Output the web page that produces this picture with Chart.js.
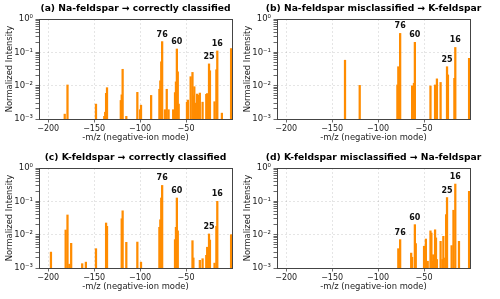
<!DOCTYPE html>
<html>
<head>
<meta charset="utf-8">
<script src="https://cdn.jsdelivr.net/npm/chart.js@4.4.1/dist/chart.umd.min.js"></script>
<style>
  body { margin: 0; background: #fff; width: 500px; height: 299px; overflow: hidden; position: relative; }
  canvas { position: absolute; }
</style>
</head>
<body>
<canvas id="panelA" width="250" height="150" style="left:0;top:0"></canvas>
<canvas id="panelB" width="250" height="150" style="left:238px;top:0"></canvas>
<canvas id="panelC" width="250" height="150" style="left:0;top:149px"></canvas>
<canvas id="panelD" width="250" height="150" style="left:238px;top:149px"></canvas>
<script>
// Spectra (-m/z position, normalized intensity)
const naCorrectMz = [-182, -179, -148, -139, -138, -137, -136, -121, -120, -119, -115, -103, -100, -99, -88,
    -79, -78, -77, -76, -73, -71, -69, -64, -62, -61, -60, -59, -58, -49, -48, -45, -43, -42, -41, -40,
    -38, -36, -35, -32, -28, -27, -25, -24, -19, -17, -16, -11, -1];
const naCorrectVal = [0.0014, 0.0105, 0.0028, 0.0012, 0.0016, 0.0059, 0.0087, 0.0036, 0.0053, 0.031, 0.0012, 0.0063, 0.0019, 0.0026, 0.0051,
    0.0078, 0.014, 0.052, 0.21, 0.0019, 0.0078, 0.0019, 0.0019, 0.0062, 0.013, 0.126, 0.026, 0.0028, 0.0032, 0.0037, 0.0186, 0.025, 0.005, 0.0093, 0.003,
    0.0056, 0.0052, 0.006, 0.0032, 0.0055, 0.0058, 0.045, 0.028, 0.0033, 0.03, 0.11, 0.0015, 0.13];

const naWrongMz = [-136, -120, -79, -78, -76, -63, -61, -60, -43, -38, -36, -32, -25, -24, -17, -16, -1];
const naWrongVal = [0.058, 0.0102, 0.0105, 0.037, 0.37, 0.0099, 0.0118, 0.2, 0.0098, 0.0105, 0.016, 0.0125, 0.037, 0.021, 0.0166, 0.14, 0.066];

const kCorrectMz = [-197, -181, -179, -177, -175, -163, -159, -148, -137, -136, -120, -119, -115, -103, -99,
    -79, -78, -77, -76, -62, -61, -60, -59, -43, -42, -35, -32, -28, -27, -25, -24, -19, -17, -16, -1];
const kCorrectVal = [0.003, 0.0138, 0.039, 0.0013, 0.0055, 0.00135, 0.0015, 0.0038, 0.0224, 0.0178, 0.03, 0.052, 0.0059, 0.006, 0.0015,
    0.0166, 0.028, 0.126, 0.30, 0.0071, 0.0166, 0.126, 0.013, 0.0066, 0.002, 0.0017, 0.0019, 0.0024, 0.0042, 0.0105, 0.0069, 0.0014, 0.0178, 0.10, 0.01];

const kWrongMz = [-78, -76, -64, -63, -60, -59, -50, -48, -46, -43, -42, -41, -40, -38, -37, -36, -32, -30, -29, -27, -26, -25, -20, -18, -16, -12, -1];
const kWrongVal = [0.0038, 0.0071, 0.0028, 0.0021, 0.02, 0.0054, 0.0045, 0.0074, 0.0016, 0.013, 0.0112, 0.0016, 0.0025, 0.014, 0.008, 0.0018,
    0.0063, 0.0018, 0.0089, 0.002, 0.04, 0.13, 0.0047, 0.054, 0.33, 0.0063, 0.2];

// Peaks that get a number on top
const peakLabels = [76, 60, 25, 16];

// Axis ticks
const xTickValues = [-200, -150, -100, -50];
const yDecades = [-3, -2, -1, 0];
const yTickLabels = ['10\u207B\u00B3', '10\u207B\u00B2', '10\u207B\u00B9', '10\u2070'];

const fontFamily = "'DejaVu Sans', sans-serif";
const barColor = '#ff8c00';
const gridColor = 'rgba(0, 0, 0, 0.13)';
const axisColor = '#444';
const textColor = '#222';

function isDecade(v) {
    const l = Math.log10(v);
    return Math.abs(l - Math.round(l)) < 1e-6;
}

function makePanel(canvasId, title, mz, values) {
    const points = mz.map((x, i) => ({ x: x, y: values[i] }));

    // frame, title and peak numbers
    const decorPlugin = {
        id: 'decor',
        afterDatasetsDraw(chart) {
            const ctx = chart.ctx;
            const meta = chart.getDatasetMeta(0);
            ctx.save();
            ctx.fillStyle = '#111';
            ctx.font = 'bold 8px ' + fontFamily;
            ctx.textAlign = 'center';
            ctx.textBaseline = 'alphabetic';
            peakLabels.forEach(p => {
                const idx = mz.indexOf(-p);
                if (idx < 0) return;
                const bar = meta.data[idx];
                ctx.fillText(String(p), bar.x, bar.y - 5);
            });
            ctx.restore();
        },
        afterDraw(chart) {
            const ctx = chart.ctx;
            const area = chart.chartArea;
            ctx.save();
            ctx.strokeStyle = axisColor;
            ctx.lineWidth = 1;
            ctx.strokeRect(area.left + 0.5, area.top + 0.5, area.right - area.left, area.bottom - area.top);
            ctx.fillStyle = '#000';
            ctx.font = 'bold 9.2px ' + fontFamily;
            ctx.textAlign = 'center';
            ctx.textBaseline = 'middle';
            ctx.fillText(title, (area.left + area.right) / 2, 9);
            ctx.restore();
        }
    };

    return new Chart(document.getElementById(canvasId), {
        type: 'bar',
        data: {
            datasets: [{
                data: points,
                backgroundColor: barColor,
                barThickness: 1.6,
                borderWidth: 0
            }]
        },
        options: {
            responsive: false,
            animation: false,
            devicePixelRatio: 1,
            layout: { padding: { left: 0, right: 18, top: 19, bottom: 0 } },
            plugins: { legend: { display: false }, tooltip: { enabled: false }, title: { display: false } },
            scales: {
                x: {
                    type: 'linear',
                    min: -210,
                    max: 0,
                    offset: false,
                    afterBuildTicks: (scale) => { scale.ticks = xTickValues.map(v => ({ value: v })); },
                    afterFit: (scale) => { scale.height = 31; },
                    ticks: {
                        autoSkip: false,
                        maxRotation: 0,
                        padding: 2,
                        color: textColor,
                        font: { family: fontFamily, size: 8 },
                        callback: (v) => '\u2212' + Math.abs(v)
                    },
                    grid: { offset: false, color: gridColor, lineWidth: 0.8, tickColor: axisColor, tickLength: 3.5 },
                    border: { display: false, dash: [2, 2] },
                    title: {
                        display: true,
                        text: '-m/z (negative-ion mode)',
                        color: textColor,
                        font: { family: fontFamily, size: 8.4, lineHeight: 1 },
                        padding: { top: 0, bottom: 7.5 }
                    }
                },
                y: {
                    type: 'logarithmic',
                    min: 0.001,
                    max: 1,
                    afterBuildTicks: (scale) => {
                        const ticks = [];
                        yDecades.forEach(e => {
                            for (let s = 1; s <= 9; s++) {
                                const v = s * Math.pow(10, e);
                                if (v <= 1.0000001) ticks.push({ value: v });
                            }
                        });
                        scale.ticks = ticks;
                    },
                    afterFit: (scale) => { scale.width = 39; },
                    ticks: {
                        autoSkip: false,
                        padding: 2.5,
                        color: textColor,
                        font: { family: fontFamily, size: 8.5 },
                        callback: (v) => isDecade(v) ? yTickLabels[yDecades.indexOf(Math.round(Math.log10(v)))] : ''
                    },
                    grid: {
                        color: (c) => (c.tick && isDecade(c.tick.value)) ? gridColor : 'transparent',
                        lineWidth: 0.8,
                        tickColor: axisColor,
                        tickLength: 3.5
                    },
                    border: { display: false, dash: [2, 2] },
                    title: {
                        display: true,
                        text: 'Normalized Intensity',
                        color: textColor,
                        font: { family: fontFamily, size: 8.4, lineHeight: 1 },
                        padding: { top: 6, bottom: 0 }
                    }
                }
            }
        },
        plugins: [decorPlugin]
    });
}

/* Build the four panels */
makePanel('panelA', '(a) Na-feldspar \u2192 correctly classified', naCorrectMz, naCorrectVal);
makePanel('panelB', '(b) Na-feldspar misclassified \u2192 K-feldspar', naWrongMz, naWrongVal);
makePanel('panelC', '(c) K-feldspar \u2192 correctly classified', kCorrectMz, kCorrectVal);
makePanel('panelD', '(d) K-feldspar misclassified \u2192 Na-feldspar', kWrongMz, kWrongVal);
</script>
</body>
</html>
